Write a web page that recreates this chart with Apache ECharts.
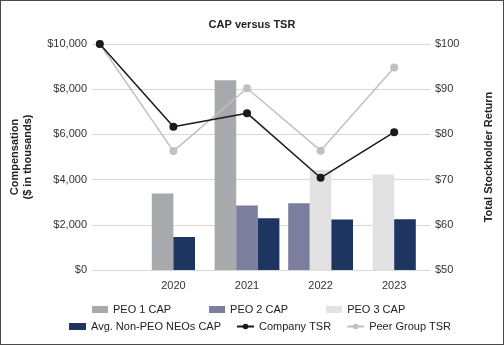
<!DOCTYPE html>
<html>
<head>
<meta charset="utf-8">
<script src="https://cdn.jsdelivr.net/npm/echarts@6/dist/echarts.min.js"></script>
<style>
  html, body { margin: 0; padding: 0; background: #fff; }
  #wrap { position: relative; width: 504px; height: 345px; }
  #chart { width: 504px; height: 345px; }
  #frame { position: absolute; left: 0; top: 0; width: 504px; height: 345px; box-sizing: border-box; border: 1px solid #4a4a4a; pointer-events: none; }
</style>
</head>
<body>
<div id="wrap"><div id="chart"></div><div id="frame"></div></div>
<script>
// Fiscal years (first slot is the $100 base point)
const years = ['', '2020', '2021', '2022', '2023'];

// Compensation actually paid, $ thousands
const peo1Cap = [null, 3390, 8400, null, null];
const peo2Cap = [null, null, 2850, 2950, null];
const peo3Cap = [null, null, null, 4420, 4230];
const neoCap  = [null, 1460, 2290, 2240, 2250];

// Value of a $100 investment
const companyTsr = [100, 81.7, 84.7, 70.4, 80.5];
const peerTsr    = [100, 76.3, 90.2, 76.4, 94.8];

// Left / right axis ticks
const compTicks = [0, 2000, 4000, 6000, 8000, 10000];
const tsrTicks  = [50, 60, 70, 80, 90, 100];

const FONT = '"Liberation Sans", Arial, sans-serif';
const FS = 11;

const barDefs = [
  { name: 'PEO 1 CAP', data: peo1Cap, color: '#a8a9ad' },
  { name: 'PEO 2 CAP', data: peo2Cap, color: '#7c7e9e' },
  { name: 'PEO 3 CAP', data: peo3Cap, color: '#e2e2e4' },
  { name: 'Avg. Non-PEO NEOs CAP', data: neoCap, color: '#1e3562' }
];

const BAR_W = 21.6;

// Bars in a year are packed side by side, skipping series with no value
function makeBarSeries(def) {
  return {
    type: 'custom',
    name: def.name,
    xAxisIndex: 1,
    yAxisIndex: 2,
    itemStyle: { color: def.color },
    encode: { x: 0, y: 1 },
    data: def.data.map((v, i) => [i, v]).filter(d => d[1] != null),
    z: 2,
    renderItem: function (params, api) {
      const i = api.value(0);
      const v = api.value(1);
      const present = barDefs.filter(b => b.data[i] != null);
      const k = present.indexOf(def);
      const n = present.length;
      const base = api.coord([i, 0]);
      const top = api.coord([i, v]);
      const x = base[0] + (k - n / 2) * BAR_W;
      return {
        type: 'rect',
        shape: { x: x, y: top[1], width: BAR_W, height: base[1] - top[1] },
        style: { fill: def.color }
      };
    }
  };
}

const chart = echarts.init(document.getElementById('chart'), null, { renderer: 'canvas' });

const labelStyle = { color: '#333', fontSize: FS, fontFamily: FONT };
const legendText = { fontSize: FS, color: '#222', fontFamily: FONT };

chart.setOption({
  animation: false,
  backgroundColor: '#fff',
  title: {
    text: 'CAP versus TSR',
    left: 'center',
    top: 14,
    textStyle: { fontSize: FS, fontWeight: 'bold', color: '#222', fontFamily: FONT }
  },
  grid: [
    { left: 86, right: 74, top: 44, bottom: 75 },
    { left: 63, right: 73, top: 44, bottom: 75 }
  ],
  legend: [
    {
      left: 92, top: 304, padding: 0,
      itemWidth: 16, itemHeight: 7, itemGap: 38,
      textStyle: legendText,
      data: [
        { name: 'PEO 1 CAP', icon: 'rect' },
        { name: 'PEO 2 CAP', icon: 'rect' },
        { name: 'PEO 3 CAP', icon: 'rect' }
      ]
    },
    {
      left: 69, top: 321, padding: 0,
      itemWidth: 17, itemHeight: 7, itemGap: 15,
      textStyle: legendText,
      data: [
        { name: 'Avg. Non-PEO NEOs CAP', icon: 'rect' },
        { name: 'Company TSR' },
        { name: 'Peer Group TSR' }
      ]
    }
  ],
  xAxis: [
    { type: 'category', gridIndex: 0, data: years, show: false },
    {
      type: 'category', gridIndex: 1, data: years,
      axisLine: { show: false }, axisTick: { show: false },
      axisLabel: Object.assign({ margin: 10 }, labelStyle)
    }
  ],
  yAxis: [
    {
      type: 'value', gridIndex: 0, position: 'left',
      min: compTicks[0], max: compTicks[compTicks.length - 1], interval: 2000,
      name: 'Compensation\n($ in thousands)',
      nameLocation: 'middle', nameRotate: 90, nameGap: 58,
      nameTextStyle: { fontSize: FS, fontWeight: 'bold', color: '#222', fontFamily: FONT, lineHeight: 13 },
      axisLine: { show: false }, axisTick: { show: false },
      axisLabel: Object.assign({ margin: 5, formatter: v => '$' + v.toLocaleString('en-US') }, labelStyle),
      splitLine: { lineStyle: { color: '#d9d9d9', width: 1 } }
    },
    {
      type: 'value', gridIndex: 0, position: 'right',
      min: tsrTicks[0], max: tsrTicks[tsrTicks.length - 1], interval: 10,
      name: 'Total Stockholder Return',
      nameLocation: 'middle', nameRotate: 90, nameGap: 53,
      nameTextStyle: { fontSize: FS, fontWeight: 'bold', color: '#222', fontFamily: FONT },
      axisLine: { show: false }, axisTick: { show: false },
      axisLabel: Object.assign({ margin: 5, formatter: v => '$' + v }, labelStyle),
      splitLine: { show: false }
    },
    {
      type: 'value', gridIndex: 1, position: 'left', show: false,
      min: compTicks[0], max: compTicks[compTicks.length - 1], splitLine: { show: false }
    },
    {
      type: 'value', gridIndex: 1, position: 'right', show: false,
      min: tsrTicks[0], max: tsrTicks[tsrTicks.length - 1], splitLine: { show: false }
    }
  ],
  series: barDefs.map(makeBarSeries).concat([
    {
      type: 'line', name: 'Peer Group TSR',
      xAxisIndex: 1, yAxisIndex: 3,
      data: peerTsr,
      color: '#c0c0c0',
      lineStyle: { color: '#c0c0c0', width: 1.5 },
      itemStyle: { color: '#c0c0c0' },
      symbol: 'circle', symbolSize: 8,
      z: 4
    },
    {
      type: 'line', name: 'Company TSR',
      xAxisIndex: 1, yAxisIndex: 3,
      data: companyTsr,
      color: '#1a1a1a',
      lineStyle: { color: '#1a1a1a', width: 1.5 },
      itemStyle: { color: '#1a1a1a' },
      symbol: 'circle', symbolSize: 8,
      z: 5
    }
  ])
});
</script>
</body>
</html>
